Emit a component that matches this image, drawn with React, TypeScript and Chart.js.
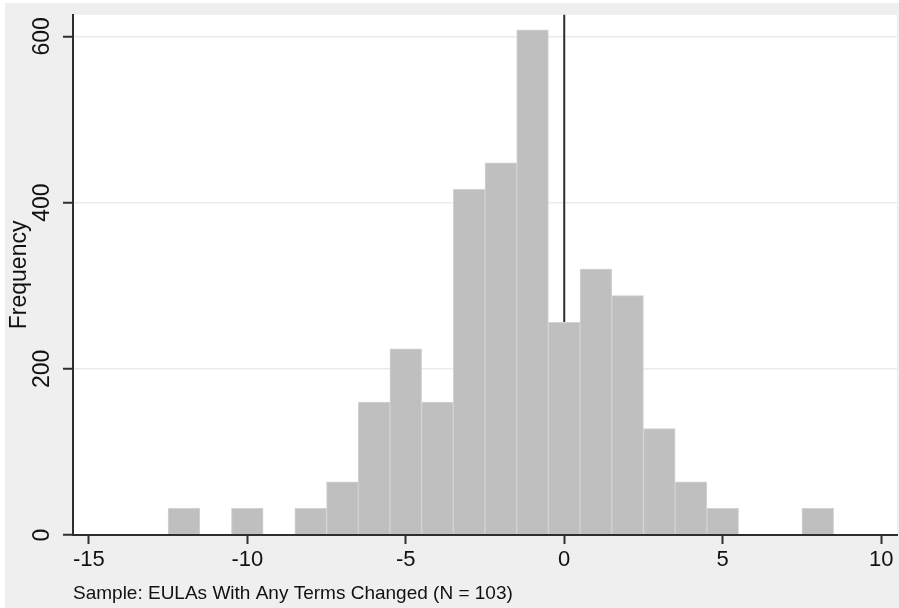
import React, { useEffect, useRef } from "react";
import { Chart, registerables } from "chart.js";

Chart.register(...registerables);

// ---- data ----
const binCenters = [-12, -10, -8, -7, -6, -5, -4, -3, -2, -1, 0, 1, 2, 3, 4, 5, 8];
const frequencies = [32, 32, 32, 64, 160, 224, 160, 416, 448, 608, 256, 320, 288, 128, 64, 32, 32];
const xTickValues = [-15, -10, -5, 0, 5, 10];
const yTickValues = [0, 200, 400, 600];
const yAxisTitle = "Frequency";
const caption = "Sample: EULAs With Any Terms Changed (N = 103)";
const referenceLineAt = 0;

const FONT = '"Liberation Sans", Arial, Helvetica, sans-serif';
const TEXT = "#111111";
const AXIS = "#2e2e2e";

const backgroundPlugin = {
  id: "stataBackground",
  beforeDraw(chart: any) {
    const { ctx, width, height, chartArea } = chart;
    ctx.save();
    ctx.fillStyle = "#ffffff";
    ctx.fillRect(0, 0, width, height);
    ctx.fillStyle = "#efefef";
    ctx.fillRect(5, 3, width - 5, height - 3);
    ctx.fillStyle = "#ffffff";
    ctx.fillRect(chartArea.left, chartArea.top, chartArea.right - chartArea.left, chartArea.bottom - chartArea.top);
    ctx.restore();
  },
};

const refLinePlugin = {
  id: "refLine",
  beforeDatasetsDraw(chart: any) {
    const { ctx, chartArea, scales } = chart;
    const x = scales.x.getPixelForValue(referenceLineAt);
    ctx.save();
    ctx.strokeStyle = AXIS;
    ctx.lineWidth = 2;
    ctx.beginPath();
    ctx.moveTo(x, chartArea.top);
    ctx.lineTo(x, chartArea.bottom);
    ctx.stroke();
    ctx.restore();
  },
};

export default function App() {
  const canvasRef = useRef<HTMLCanvasElement | null>(null);

  useEffect(() => {
    document.body.style.margin = "0";
    const canvas = canvasRef.current;
    if (!canvas) return;
    Chart.defaults.font.family = FONT;

    const chart = new Chart(canvas, {
      type: "bar",
      data: {
        datasets: [
          {
            data: binCenters.map((c, i) => ({ x: c, y: frequencies[i] })),
            backgroundColor: "#bfbfbf",
            borderColor: "#d2d2d2",
            borderWidth: 1,
            barPercentage: 1,
            categoryPercentage: 1,
          },
        ],
      },
      options: {
        responsive: false,
        animation: false,
        devicePixelRatio: 1,
        layout: { padding: { top: 12, right: 2, left: 0, bottom: 0 } },
        plugins: {
          legend: { display: false },
          tooltip: { enabled: false },
        },
        scales: {
          x: {
            type: "linear",
            offset: false,
            min: -15.5,
            max: 10.5,
            afterBuildTicks: (s: any) => {
              s.ticks = xTickValues.map((v) => ({ value: v }));
            },
            afterFit: (s: any) => {
              s.height = 73;
            },
            grid: {
              offset: false,
              drawOnChartArea: false,
              drawTicks: true,
              tickLength: 9,
              tickColor: AXIS,
              tickWidth: 2,
            },
            border: { display: true, color: AXIS, width: 2, z: 1 },
            ticks: {
              color: TEXT,
              font: { size: 22 },
              padding: 3,
              maxRotation: 0,
              autoSkip: false,
              callback: (v: any) => String(v),
            },
            title: {
              display: true,
              text: caption,
              align: "start",
              color: TEXT,
              font: { size: 19 },
              padding: { top: 0, bottom: 3 },
            },
          },
          y: {
            type: "linear",
            min: 0,
            max: 626,
            afterBuildTicks: (s: any) => {
              s.ticks = yTickValues.map((v) => ({ value: v }));
            },
            afterFit: (s: any) => {
              s.width = 73;
            },
            grid: {
              color: "#ebebeb",
              lineWidth: 1.5,
              drawTicks: true,
              tickLength: 10,
              tickColor: AXIS,
              tickWidth: 2,
            },
            border: { display: true, color: AXIS, width: 2, z: 1 },
            ticks: {
              color: TEXT,
              font: { size: 23 },
              minRotation: 90,
              maxRotation: 90,
              crossAlign: "center",
              padding: 1,
              autoSkip: false,
              callback: (v: any) => String(v),
            },
            title: {
              display: true,
              text: yAxisTitle,
              color: TEXT,
              font: { size: 23 },
              padding: { top: 6, bottom: 0 },
            },
          },
        },
      },
      plugins: [backgroundPlugin, refLinePlugin],
    } as any);

    return () => chart.destroy();
  }, []);

  return (
    <div style={{ position: "absolute", left: 0, top: 0, width: 899, height: 608 }}>
      <canvas ref={canvasRef} width={899} height={608} style={{ width: 899, height: 608, display: "block" }} />
    </div>
  );
}
